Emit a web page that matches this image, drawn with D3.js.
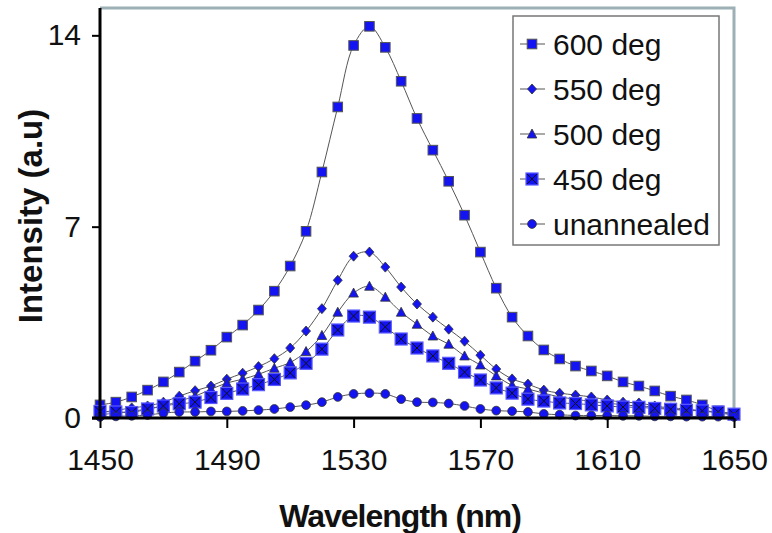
<!DOCTYPE html>
<html>
<head>
<meta charset="utf-8">
<script src="https://cdn.jsdelivr.net/npm/d3@7"></script>
<style>
  body { margin: 0; background: #fff; }
  svg { display: block; font-family: "Liberation Sans", Arial, sans-serif; }
</style>
</head>
<body>
<svg class="chart" width="772" height="533"></svg>
<script>
// wavelength every 5 nm from 1450 to 1650
const wavelengths = d3.range(1450, 1651, 5)

const deg600 = [0.48, 0.58, 0.77, 1.02, 1.32, 1.68, 2.08, 2.48, 2.96, 3.40,
  3.95, 4.64, 5.56, 6.83, 9.0, 11.38, 13.63, 14.33, 13.56, 12.32,
  10.96, 9.8, 8.66, 7.42, 6.07, 4.75, 3.69, 3.0, 2.49, 2.16,
  1.90, 1.72, 1.54, 1.32, 1.17, 0.99, 0.80, 0.66, 0.48, 0.26, 0.15]
const deg550 = [0.2, 0.28, 0.37, 0.44, 0.58, 0.8, 1.0, 1.17, 1.42, 1.64,
  1.88, 2.17, 2.56, 3.18, 4.0, 5.04, 5.92, 6.07, 5.52, 4.79,
  4.17, 3.69, 3.25, 2.81, 2.30, 1.79, 1.43, 1.24, 1.02, 0.91,
  0.84, 0.77, 0.66, 0.58, 0.55, 0.44, 0.37, 0.33, 0.26, 0.22, 0.15]
const deg500 = [0.12, 0.18, 0.25, 0.33, 0.44, 0.62, 0.8, 1.05, 1.28, 1.42,
  1.60, 1.82, 2.03, 2.43, 3.02, 3.87, 4.57, 4.82, 4.42, 3.87,
  3.43, 3.0, 2.70, 2.27, 1.94, 1.54, 1.2, 1.06, 0.91, 0.77,
  0.69, 0.6, 0.55, 0.48, 0.44, 0.40, 0.33, 0.29, 0.26, 0.18, 0.12]
const deg450 = [0.24, 0.22, 0.2, 0.33, 0.44, 0.52, 0.58, 0.75, 0.9, 1.06,
  1.22, 1.41, 1.65, 2.0, 2.52, 3.22, 3.73, 3.69, 3.33, 2.89,
  2.56, 2.27, 2.0, 1.68, 1.39, 1.10, 0.91, 0.69, 0.62, 0.55,
  0.53, 0.48, 0.44, 0.40, 0.39, 0.35, 0.32, 0.28, 0.26, 0.22, 0.14]
const unannealed = [0.04, 0.06, 0.08, 0.11, 0.18, 0.22, 0.22, 0.24, 0.24, 0.26,
  0.29, 0.33, 0.40, 0.47, 0.58, 0.77, 0.88, 0.91, 0.88, 0.69,
  0.58, 0.57, 0.53, 0.44, 0.33, 0.27, 0.25, 0.22, 0.15, 0.12,
  0.09, 0.09, 0.09, 0.08, 0.08, 0.06, 0.06, 0.05, 0.05, 0.05, 0.04]

const seriesNames = ['600 deg', '550 deg', '500 deg', '450 deg', 'unannealed']
const seriesValues = [deg600, deg550, deg500, deg450, unannealed]
const markerKinds = ['square', 'diamond', 'triangle', 'xbox', 'circle']

const xTicks = [1450, 1490, 1530, 1570, 1610, 1650]
const yTicks = [0, 7, 14]

const blue = '#1414f2'

const svg = d3.select('svg.chart')

const plotLeft = 100, plotRight = 734, plotTop = 8, plotBottom = 418

const xScale = d3.scaleLinear()
    .domain([1450, 1650])
    .range([plotLeft, plotRight])

const yScale = d3.scaleLinear()
    .domain([0, 15])
    .range([plotBottom, plotTop])

// plot area border (grey, top and right visible)
svg.append('path')
    .attr('d', `M${plotLeft},${plotTop}H${plotRight}V${plotBottom}`)
    .style('fill', 'none')
    .style('stroke', '#9cb0b5')
    .style('stroke-width', 3)

// marker drawing
function drawMarker(g, kind) {
  if (kind === 'square') {
    g.append('rect').attr('x', -4.8).attr('y', -4.8).attr('width', 9.6).attr('height', 9.6)
      .style('fill', blue).style('stroke', '#555').style('stroke-width', 1)
  } else if (kind === 'diamond') {
    g.append('path').attr('d', 'M0,-5L4.5,0L0,5L-4.5,0Z')
      .style('fill', blue).style('stroke', '#333').style('stroke-width', 0.8)
  } else if (kind === 'triangle') {
    g.append('path').attr('d', 'M0,-5L4.8,4L-4.8,4Z')
      .style('fill', blue).style('stroke', '#333').style('stroke-width', 0.8)
  } else if (kind === 'xbox') {
    g.append('rect').attr('x', -6).attr('y', -6).attr('width', 12).attr('height', 12)
      .style('fill', blue).style('stroke', '#5a5aff').style('stroke-width', 1.2)
    g.append('path').attr('d', 'M-5,-5L5,5M5,-5L-5,5')
      .style('stroke', '#111').style('stroke-width', 1)
  } else {
    g.append('circle').attr('r', 4.4)
      .style('fill', blue).style('stroke', '#333').style('stroke-width', 0.8)
  }
}

const line = d3.line()
    .x((d, i) => xScale(wavelengths[i]))
    .y(d => yScale(d))
    .curve(d3.curveCatmullRom)

seriesValues.forEach((vals, s) => {
  svg.append('path')
      .datum(vals)
      .attr('d', line)
      .style('fill', 'none')
      .style('stroke', '#555')
      .style('stroke-width', 1)
})

seriesValues.forEach((vals, s) => {
  svg.append('g')
      .selectAll('g')
      .data(vals)
      .enter()
      .append('g')
      .attr('transform', (d, i) => 'translate(' + xScale(wavelengths[i]) + ',' + yScale(d) + ')')
      .each(function () { drawMarker(d3.select(this), markerKinds[s]) })
})

// axes
const xAxis = svg.append('g')
    .attr('transform', 'translate(0,' + plotBottom + ')')
    .call(d3.axisBottom(xScale).tickValues(xTicks).tickFormat(d3.format('d'))
      .tickSize(10).tickSizeOuter(0).tickPadding(21))
const yAxis = svg.append('g')
    .attr('transform', 'translate(' + plotLeft + ',0)')
    .call(d3.axisLeft(yScale).tickValues(yTicks).tickSize(8).tickSizeOuter(0).tickPadding(11))

xAxis.select('.domain').attr('d', `M${plotLeft - 8},0H${plotRight}`)
yAxis.select('.domain').attr('d', `M0,${plotTop}V${plotBottom}`)

;[xAxis, yAxis].forEach(ax => {
  ax.select('.domain').style('stroke', '#000').style('stroke-width', 3)
  ax.selectAll('.tick line').style('stroke', '#000').style('stroke-width', 2)
  ax.selectAll('.tick text')
      .style('font-size', '30px')
      .style('fill', '#111')
      .style('font-family', '"Liberation Sans", Arial, sans-serif')
})

// axis titles
svg.append('text')
    .attr('x', 400)
    .attr('y', 527)
    .attr('text-anchor', 'middle')
    .style('font-size', '32px')
    .style('font-weight', 'bold')
    .style('letter-spacing', '-1px')
    .style('fill', '#111')
    .text('Wavelength (nm)')

svg.append('text')
    .attr('text-anchor', 'middle')
    .attr('transform', 'translate(42,216)rotate(-90)')
    .style('font-size', '33px')
    .style('font-weight', 'bold')
    .style('fill', '#111')
    .text('Intensity (a.u)')

// legend
const legend = svg.append('g')
legend.append('rect')
    .attr('x', 513).attr('y', 16).attr('width', 206).attr('height', 229)
    .style('fill', '#fff')
    .style('stroke', '#777')
    .style('stroke-width', 1.5)

const legendScale = d3.scalePoint()
    .domain(seriesNames)
    .range([44, 224])

seriesNames.forEach((name, s) => {
  const row = legend.append('g')
      .attr('transform', 'translate(0,' + legendScale(name) + ')')
  row.append('line')
      .attr('x1', 520).attr('x2', 545)
      .style('stroke', '#555').style('stroke-width', 1)
  drawMarker(row.append('g').attr('transform', 'translate(532,0)'), markerKinds[s])
  row.append('text')
      .attr('x', 553)
      .attr('y', 11)
      .style('font-size', '30px')
      .style('fill', '#111')
      .text(name)
})
</script>
</body>
</html>
